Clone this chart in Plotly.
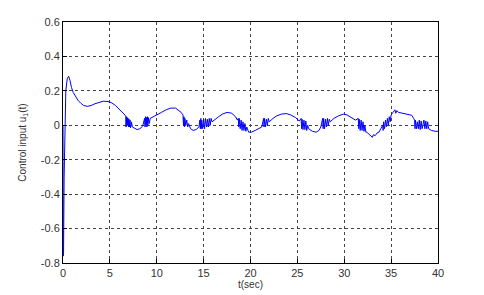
import plotly.graph_objects as go

# time samples (s) and control input u1(t)
t = [
    0.0, 0.02, 0.06, 0.12, 0.2, 0.3, 0.45, 0.6, 0.75, 0.9, 1.1, 1.3, 1.6, 1.9, 2.2, 2.6,
    3.0, 3.4, 3.8, 4.3, 4.8, 5.2, 5.6, 6.0, 6.3, 6.6,
    6.7, 6.72, 6.76, 6.8, 6.85, 6.9, 6.95, 7.0, 7.05, 7.1, 7.15, 7.2, 7.3, 7.4,
    7.6, 7.9, 8.2, 8.5,
    8.7, 8.75, 8.8, 8.85, 8.9, 8.95, 9.0, 9.05, 9.1, 9.2, 9.3,
    9.6, 10.0, 10.5, 11.0, 11.5, 12.0, 12.3, 12.6,
    12.8, 12.85, 12.9, 12.95, 13.0, 13.1, 13.2, 13.3, 13.4,
    13.6, 13.9, 14.2, 14.5,
    14.6, 14.65, 14.7, 14.75, 14.8, 14.9, 15.0, 15.1, 15.2, 15.3, 15.4, 15.5, 15.6, 15.7, 15.8, 15.9,
    16.2, 16.6, 17.0, 17.5, 18.0, 18.4, 18.6,
    18.7, 18.75, 18.8, 18.9, 19.0, 19.1, 19.2, 19.3, 19.4, 19.5, 19.6,
    19.8, 20.1, 20.5, 20.9, 21.2,
    21.4, 21.45, 21.5, 21.6, 21.7, 21.8, 21.9, 22.0,
    22.4, 22.8, 23.3, 23.8, 24.3, 24.8, 25.2,
    25.4, 25.45, 25.5, 25.6, 25.7, 25.8, 25.9, 26.0, 26.1, 26.2, 26.3,
    26.6, 27.0, 27.3, 27.5,
    27.7, 27.75, 27.8, 27.9, 28.0, 28.1, 28.2, 28.3, 28.4, 28.5,
    28.9, 29.4, 29.9, 30.3, 30.8, 31.2,
    31.5, 31.55, 31.6, 31.7, 31.8, 31.9, 32.0, 32.1, 32.2, 32.3, 32.4,
    32.6, 32.8, 33.0, 33.1, 33.3, 33.5, 33.7, 33.9,
    34.1, 34.15, 34.2, 34.3, 34.4, 34.5, 34.6, 34.7, 34.8, 34.9, 35.0,
    35.2, 35.4, 35.5, 35.6, 35.8, 36.2, 36.7, 37.2, 37.4,
    37.5, 37.55, 37.6, 37.7, 37.8, 37.9, 38.0, 38.1, 38.2, 38.3, 38.5, 38.6, 38.7, 38.8, 38.9, 39.0,
    39.3, 39.7, 40.0,
]
u1 = [
    0.0, -0.76, -0.74, -0.3, 0.05, 0.2, 0.27, 0.285, 0.26, 0.22, 0.19, 0.17, 0.145, 0.128, 0.115, 0.11,
    0.115, 0.125, 0.133, 0.14, 0.138, 0.13, 0.115, 0.095, 0.08, 0.06,
    0.05, -0.01, 0.05, -0.005, 0.045, 0.0, 0.04, -0.01, 0.035, -0.01, 0.03, -0.015, 0.02, -0.01,
    -0.015, -0.025, -0.02, -0.005,
    0.04, -0.01, 0.05, 0.0, 0.045, -0.01, 0.05, 0.0, 0.045, 0.01, 0.04,
    0.05, 0.06, 0.075, 0.09, 0.1, 0.1, 0.09, 0.075,
    0.06, 0.0, 0.05, -0.01, 0.04, 0.0, 0.03, -0.01, 0.01,
    -0.02, -0.03, -0.025, -0.01,
    0.03, -0.02, 0.04, -0.02, 0.03, -0.02, 0.035, -0.02, 0.04, -0.01, 0.035, -0.01, 0.04, 0.0, 0.04, 0.02,
    0.035, 0.05, 0.065, 0.075, 0.07, 0.05, 0.03,
    0.04, -0.01, 0.04, -0.02, 0.03, -0.03, 0.02, -0.03, 0.01, -0.035, -0.01,
    -0.04, -0.04, -0.03, -0.02, -0.01,
    0.04, -0.01, 0.04, -0.01, 0.035, 0.0, 0.04, 0.02,
    0.04, 0.055, 0.065, 0.068, 0.06, 0.045, 0.025,
    0.04, -0.02, 0.035, -0.025, 0.03, -0.025, 0.025, -0.03, 0.0, -0.02, -0.025,
    -0.035, -0.04, -0.03, -0.01,
    0.04, -0.02, 0.04, -0.02, 0.035, -0.01, 0.04, 0.0, 0.035, 0.02,
    0.04, 0.055, 0.065, 0.06, 0.045, 0.03,
    0.04, -0.02, 0.035, -0.03, 0.03, -0.03, 0.02, -0.035, 0.0, -0.04, -0.04,
    -0.05, -0.06, -0.07, -0.055, -0.06, -0.045, -0.04, -0.02,
    0.0, -0.03, 0.02, -0.02, 0.03, -0.01, 0.04, 0.0, 0.05, 0.02, 0.06,
    0.075, 0.09, 0.07, 0.085, 0.075, 0.07, 0.065, 0.058, 0.04,
    0.03, -0.02, 0.03, -0.02, 0.02, -0.02, 0.03, -0.025, 0.025, -0.02, 0.03, -0.02, 0.025, -0.02, 0.02, -0.02,
    -0.03, -0.035, -0.035,
]

x_ticks = [0, 5, 10, 15, 20, 25, 30, 35, 40]
x_ticktext = ["0", "5", "10", "15", "20", "25", "30", "35", "40"]
y_ticks = [-0.8, -0.6, -0.4, -0.2, 0, 0.2, 0.4, 0.6]
y_ticktext = ["-0.8", "-0.6", "-0.4", "-0.2", "0", "0.2", "0.4", "0.6"]

fig = go.Figure()
fig.add_trace(go.Scatter(x=t, y=u1, mode="lines",
                         line=dict(color="#0000ff", width=1), showlegend=False))

font_family = "Liberation Sans, Arial"
axis_common = dict(
    showline=True, linecolor="black", linewidth=1, mirror=True,
    showgrid=True, gridcolor="#444444", griddash="dot", gridwidth=1,
    ticks="inside", ticklen=4, tickcolor="black",
    zeroline=False,
    tickfont=dict(family=font_family, size=11, color="#333333"),
)

fig.update_layout(
    width=484, height=295,
    margin=dict(l=63, r=46, t=22, b=32, autoexpand=False),
    paper_bgcolor="white", plot_bgcolor="white",
    xaxis=dict(range=[0, 40], tickvals=x_ticks, ticktext=x_ticktext,
               title=dict(text="t(sec)", standoff=0,
                          font=dict(family=font_family, size=10, color="#333333")),
               **axis_common),
    yaxis=dict(range=[-0.8, 0.6], tickvals=y_ticks, ticktext=y_ticktext,
               title=dict(text="Control input u<sub>1</sub>(t)", standoff=12,
                          font=dict(family=font_family, size=10, color="#333333")),
               **axis_common),
)

fig.write_html("out.html",
               config={"displayModeBar": False, "staticPlot": True},
               post_script="document.body.style.margin='0';document.body.style.padding='0';")
